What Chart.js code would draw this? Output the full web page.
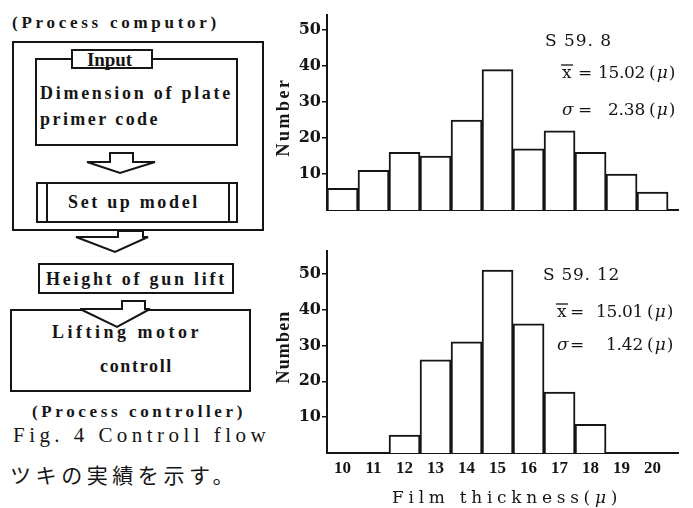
<!DOCTYPE html>
<html>
<head>
<meta charset="utf-8">
<script src="https://cdn.jsdelivr.net/npm/chart.js@4.4.1/dist/chart.umd.min.js"></script>
<style>
    body { margin: 0; background: #fff; }
    #page { position: relative; width: 693px; height: 508px; overflow: hidden; background: #fff; color: #151515; font-family: 'Liberation Serif', serif; }
    .t { position: absolute; white-space: nowrap; font-weight: bold; line-height: 1; transform: translateY(-50%); }
    .box { position: absolute; border: 2px solid #151515; box-sizing: border-box; background: transparent; }
    canvas { position: absolute; }
</style>
</head>
<body>
<div id="page">
    <!-- flow chart (left side) -->
    <div class="t" data-w="208" style="left:12px;top:22px;font-size:17px">(Process computor)</div>
    <div class="box" style="left:12px;top:41px;width:252px;height:190px"></div>
    <div class="box" style="left:35px;top:58px;width:203px;height:88px"></div>
    <div class="box" style="left:71px;top:49px;width:82px;height:20px;background:#fff"></div>
    <div class="t" data-w="45" style="left:87px;top:59px;font-size:19px">Input</div>
    <div class="t" data-w="193" style="left:40px;top:93px;font-size:18px">Dimension of plate</div>
    <div class="t" data-w="120" style="left:40px;top:119px;font-size:18px">primer code</div>
    <div class="box" style="left:36px;top:182px;width:202px;height:41px"></div>
    <div class="box" style="left:46px;top:182px;width:184px;height:41px;border-top:none;border-bottom:none"></div>
    <div class="t" data-w="132" style="left:68px;top:202px;font-size:18px">Set up model</div>
    <div class="box" style="left:38px;top:263px;width:196px;height:31px"></div>
    <div class="t" data-w="181" style="left:46px;top:279px;font-size:18px">Height of gun lift</div>
    <div class="box" style="left:10px;top:309px;width:241px;height:83px"></div>
    <div class="t" data-w="150" style="left:52px;top:332px;font-size:18px">Lifting motor</div>
    <div class="t" data-w="73" style="left:100px;top:366px;font-size:18px">controll</div>
    <div class="t" data-w="214" style="left:32px;top:411px;font-size:17px">(Process controller)</div>
    <div class="t" data-w="257" style="left:13px;top:435px;font-size:21px;font-weight:normal">Fig. 4 Controll flow</div>
    <div class="t" data-w="228" style="left:10px;top:474px;font-size:21px;font-weight:normal;font-family:'Noto Sans CJK JP',sans-serif">ツキの実績を示す。</div>
    <svg style="position:absolute;left:0;top:0" width="270" height="508">
        <g fill="#fff" stroke="#151515" stroke-width="2" stroke-linejoin="miter">
            <polygon points="110,153 133,153 133,162 155,162 120,173 87,162 110,162"/>
            <polygon points="118,231 143,231 143,237 148,237 115,252 76,237 118,237"/>
            <polygon points="122,301 145,301 145,309 150,309 117,327 80,309 122,309"/>
        </g>
    </svg>

    <!-- film thickness histograms (right side) -->
    <canvas id="augChart" width="423" height="230" style="left:270px;top:0"></canvas>
    <canvas id="decChart" width="423" height="268" style="left:270px;top:240px"></canvas>
</div>

<script>
// film thickness classes (micron) and counts
const thickness = [10, 11, 12, 13, 14, 15, 16, 17, 18, 19, 20];
const countsAug = [6, 11, 16, 15, 25, 39, 17, 22, 16, 10, 5];   // S 59.8
const countsDec = [0, 0, 5, 26, 31, 51, 36, 17, 8, 0, 0];       // S 59.12
const numberTicks = [10, 20, 30, 40, 50];

const INK = '#151515';
const SERIF = "'DejaVu Serif', serif";

// stretch html labels to the width they have in the scan
document.querySelectorAll('.t[data-w]').forEach(el => {
    const natural = el.getBoundingClientRect().width;
    const n = el.textContent.length;
    el.style.letterSpacing = ((+el.dataset.w - natural) / n) + 'px';
});

/**
 * Draw a string so it spans the given width
 */
function fitText(ctx, text, x, y, width, font) {
    ctx.font = font;
    ctx.letterSpacing = '0px';
    const natural = ctx.measureText(text).width;
    ctx.letterSpacing = ((width - natural) / text.length) + 'px';
    ctx.fillText(text, x, y);
    ctx.letterSpacing = '0px';
}

/**
 * Draw pieces with their own fonts one after the other
 */
function drawRuns(ctx, x, y, runs) {
    runs.forEach(r => {
        ctx.font = r.font;
        ctx.fillText(r.t, x, y);
        x += ctx.measureText(r.t).width + (r.gap || 0);
    });
}

// mean / sigma notes and axis titles
const histNotes = {
    id: 'histNotes',
    afterDraw(chart, args, opts) {
        const ctx = chart.ctx;
        const ox = opts.ox, oy = opts.oy;
        const f = '17px ' + SERIF;
        const fi = 'italic 17px ' + SERIF;
        ctx.save();
        ctx.fillStyle = INK;
        ctx.strokeStyle = INK;
        ctx.textBaseline = 'alphabetic';
        ctx.textAlign = 'left';

        fitText(ctx, opts.label, opts.labelX - ox, opts.labelY - oy, opts.labelW, f);

        // x-bar line
        ctx.font = f;
        ctx.fillText('x', opts.noteX - ox, opts.meanY - oy);
        ctx.lineWidth = 1.3;
        ctx.beginPath();
        ctx.moveTo(opts.noteX - 1 - ox, opts.meanY - 13 - oy);
        ctx.lineTo(opts.noteX + 11 - ox, opts.meanY - 13 - oy);
        ctx.stroke();
        ctx.fillText('=', opts.eqX - ox, opts.meanY - oy);
        ctx.textAlign = 'right';
        fitText(ctx, opts.mean, opts.numRight - ox, opts.meanY - oy, 47, f);
        ctx.textAlign = 'left';
        drawRuns(ctx, opts.numRight + 4 - ox, opts.meanY - oy, [
            { t: '(', font: f, gap: 1 }, { t: 'μ', font: fi, gap: 1 }, { t: ')', font: f }
        ]);

        // sigma line
        drawRuns(ctx, opts.noteX - ox, opts.sigmaY - oy, [{ t: 'σ', font: fi }]);
        ctx.font = f;
        ctx.fillText('=', opts.eqX - ox, opts.sigmaY - oy);
        ctx.textAlign = 'right';
        fitText(ctx, opts.sigma, opts.numRight - ox, opts.sigmaY - oy, 37, f);
        ctx.textAlign = 'left';
        drawRuns(ctx, opts.numRight + 4 - ox, opts.sigmaY - oy, [
            { t: '(', font: f, gap: 1 }, { t: 'μ', font: fi, gap: 1 }, { t: ')', font: f }
        ]);

        // rotated y title
        ctx.save();
        ctx.translate(opts.yTitleX - ox, opts.yTitleY - oy);
        ctx.rotate(-Math.PI / 2);
        ctx.textAlign = 'center';
        ctx.textBaseline = 'middle';
        fitText(ctx, opts.yTitle, 0, 0, opts.yTitleW, "bold 18px 'Liberation Serif', serif");
        ctx.restore();

        // x title (bottom chart only)
        if (opts.xTitle) {
            const fx = '17px ' + SERIF;
            const fxi = 'italic 17px ' + SERIF;
            ctx.font = fx;
            const w1 = ctx.measureText('Film thickness(').width;
            const w3 = ctx.measureText(')').width;
            ctx.font = fxi;
            const w2 = ctx.measureText('μ').width;
            const sp = (230 - (w1 + w2 + w3)) / 17;
            let x = 392 - ox;
            const y = 503 - oy;
            ctx.letterSpacing = sp + 'px';
            ctx.font = fx;
            ctx.fillText('Film thickness(', x, y);
            x += ctx.measureText('Film thickness(').width;
            ctx.font = fxi;
            ctx.fillText('μ', x, y);
            x += ctx.measureText('μ').width;
            ctx.font = fx;
            ctx.fillText(')', x, y);
            ctx.letterSpacing = '0px';
        }
        ctx.restore();
    }
};

/**
 * Build one histogram on a linear thickness axis
 */
function makeHistogram(canvasId, counts, opt) {
    const ctx = document.getElementById(canvasId).getContext('2d');
    return new Chart(ctx, {
        type: 'bar',
        data: {
            datasets: [{
                data: thickness.map((t, i) => ({ x: t, y: counts[i] })),
                backgroundColor: '#fff',
                borderColor: INK,
                borderWidth: 2,
                borderSkipped: 'bottom',
                barPercentage: 1,
                categoryPercentage: 1
            }]
        },
        plugins: [histNotes],
        options: {
            responsive: false,
            animation: false,
            devicePixelRatio: 1,
            layout: { padding: { top: opt.padTop, right: 15, left: 0, bottom: 0 } },
            plugins: {
                legend: { display: false },
                tooltip: { enabled: false },
                histNotes: opt.notes
            },
            scales: {
                x: {
                    type: 'linear',
                    min: 9.5,
                    max: 20.82,
                    offset: false,
                    afterBuildTicks: s => { s.ticks = thickness.map(v => ({ value: v })); },
                    afterFit: s => { s.height = opt.xAxisHeight; },
                    grid: { display: false, drawTicks: false, offset: false },
                    border: { display: true, color: INK, width: 2 },
                    ticks: {
                        display: opt.showXLabels,
                        padding: 5,
                        color: INK,
                        autoSkip: false,
                        maxRotation: 0,
                        font: { family: "'Liberation Serif', serif", size: 17, weight: 'bold' }
                    }
                },
                y: {
                    min: 0,
                    max: opt.yMax,
                    afterBuildTicks: s => { s.ticks = numberTicks.map(v => ({ value: v })); },
                    afterFit: s => { s.width = 57; },
                    grid: { drawOnChartArea: false, drawTicks: true, tickLength: 5, color: INK, lineWidth: 1.5 },
                    border: { display: true, color: INK, width: 2 },
                    ticks: {
                        padding: 1,
                        color: INK,
                        font: { family: SERIF, size: 16, weight: 'bold' }
                    }
                }
            }
        }
    });
}

makeHistogram('augChart', countsAug, {
    padTop: 15, xAxisHeight: 20, showXLabels: false, yMax: 54.2,
    notes: {
        ox: 270, oy: 0,
        label: 'S 59. 8', labelX: 545, labelY: 46, labelW: 67,
        noteX: 562, eqX: 578, numRight: 645,
        mean: '15.02', meanY: 78, sigma: '2.38', sigmaY: 115,
        yTitle: 'Number', yTitleX: 284, yTitleY: 117, yTitleW: 79
    }
});

makeHistogram('decChart', countsDec, {
    padTop: 3, xAxisHeight: 55, showXLabels: true, yMax: 56.45,
    notes: {
        ox: 270, oy: 240,
        label: 'S 59. 12', labelX: 543, labelY: 280, labelW: 77,
        noteX: 557, eqX: 570, numRight: 643,
        mean: '15.01', meanY: 317, sigma: '1.42', sigmaY: 350,
        yTitle: 'Numben', yTitleX: 284, yTitleY: 347, yTitleW: 73,
        xTitle: true
    }
});
</script>
</body>
</html>
